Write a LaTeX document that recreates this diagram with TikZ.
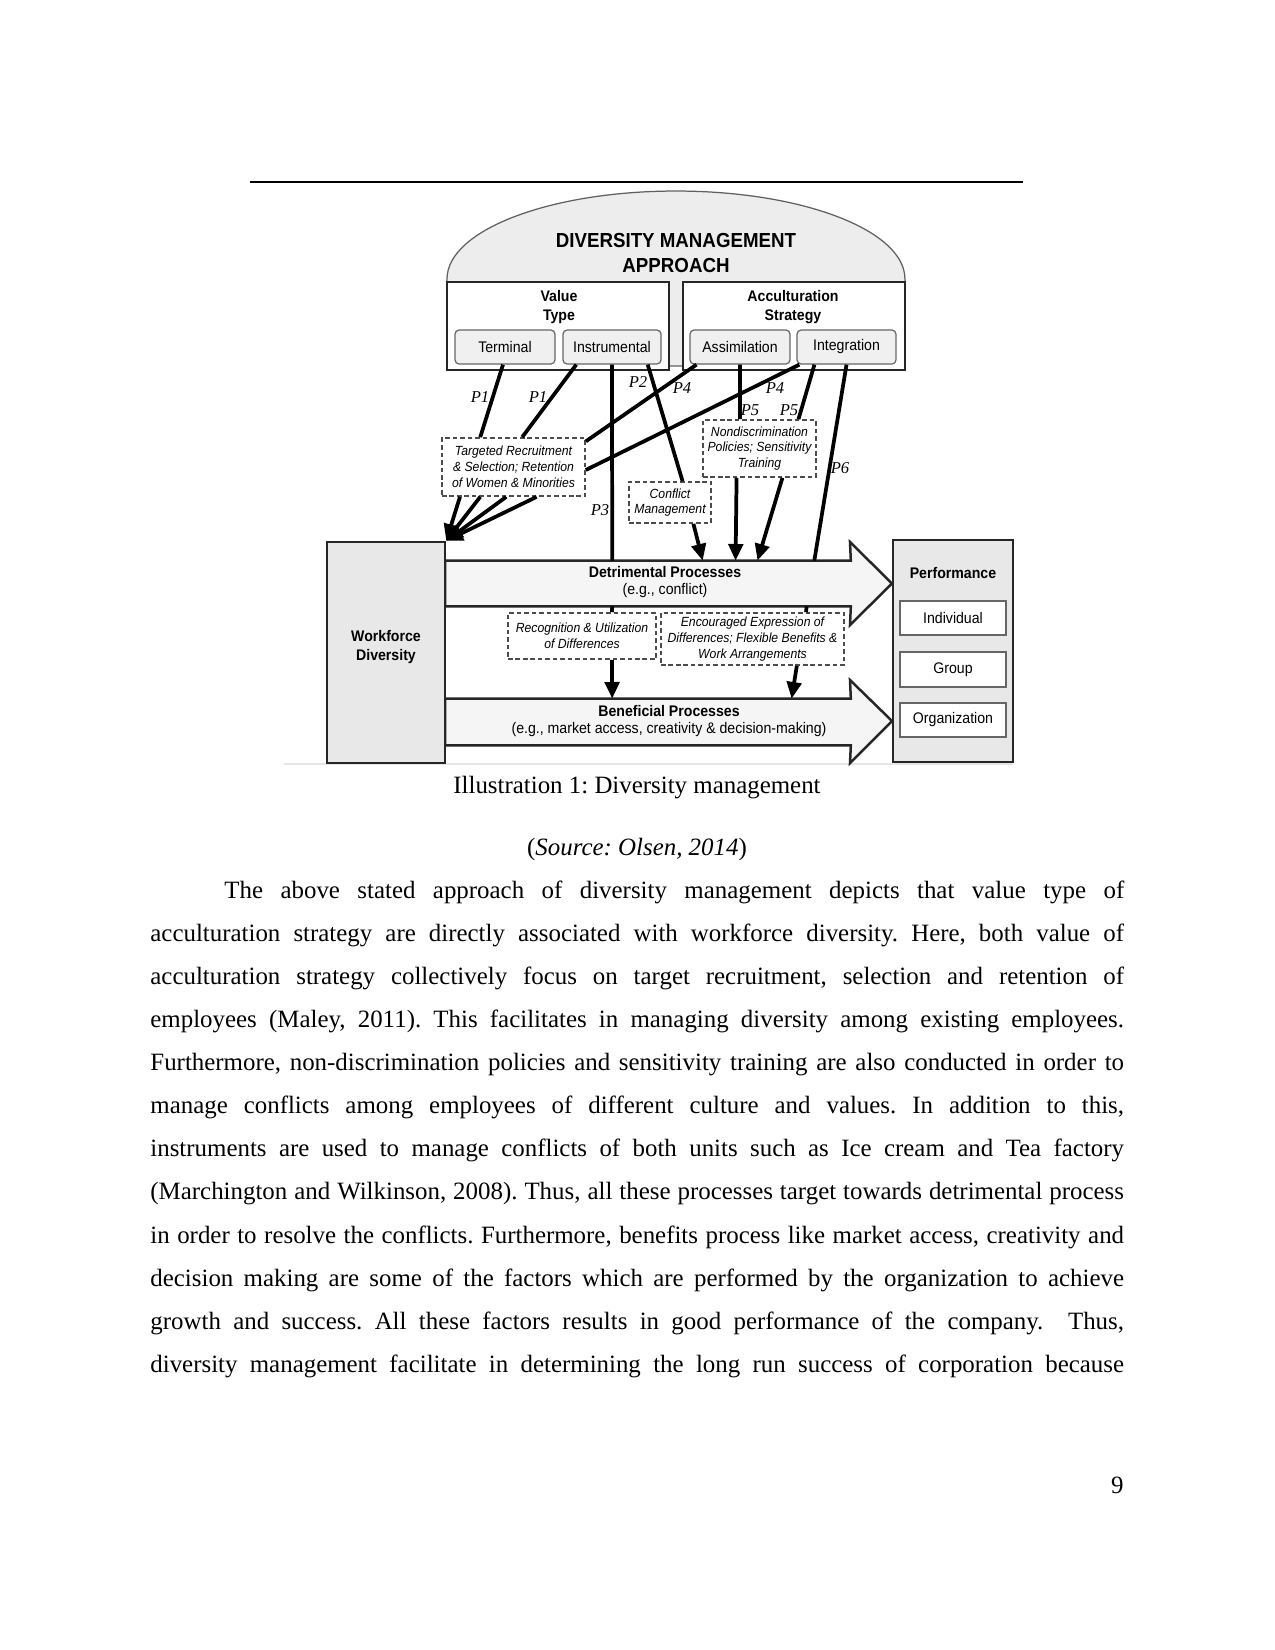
\documentclass[tikz,border=0pt]{standalone}
\usepackage{fontspec}
\setmainfont{Liberation Serif}
\newfontfamily\dgsans[FakeStretch=0.92]{Liberation Sans}
\usepackage{tikz}
\usetikzlibrary{arrows.meta, calc}
\frenchspacing

\begin{document}
\begin{tikzpicture}[
    x=0.016933cm, y=-0.016933cm,
    every node/.style={inner sep=0pt},
    sz/.style 2 args={minimum width=#1*0.016933cm, minimum height=#2*0.016933cm},
    dome/.style={draw=gray!75!black, fill=gray!14, line width=0.6pt},
    frame/.style={draw=black!85, fill=white, line width=1.2pt},
    opt/.style={draw=gray!80!black, fill=gray!12, rounded corners=2pt, line width=0.6pt, font=\dgsans\fontsize{7.4}{9}\selectfont},
    grp/.style={font=\dgsans\bfseries\fontsize{7.4}{8.8}\selectfont, align=center},
    mech/.style={draw=gray!60!black, fill=white, dashed, dash pattern=on 2.2pt off 1.4pt, line width=0.8pt, align=center, font=\dgsans\itshape\fontsize{6.4}{7.6}\selectfont},
    side/.style={draw=black!85, fill=gray!18, line width=1.2pt, align=center, font=\dgsans\bfseries\fontsize{7.4}{9.1}\selectfont},
    lvl/.style={draw=gray!80!black, fill=white, line width=0.8pt, font=\dgsans\fontsize{7.4}{9}\selectfont},
    proc/.style={draw=black!85, fill=gray!8, line width=1.2pt, line join=miter},
    proctxt/.style={font=\dgsans\fontsize{7.4}{8.6}\selectfont, align=center},
    plab/.style={font=\itshape\fontsize{8}{9}\selectfont},
    link/.style={line width=1.8pt},
    arr/.style={link, -{Triangle[length=8pt, width=7pt]}},
    body/.style={font=\fontsize{12}{14}\selectfont},
]
\fill[white] (0,0) rectangle (1275,1650);
\useasboundingbox (0,0) rectangle (1275,1650);

% top rule
\draw[line width=1pt] (250,182) -- (1023,182);
\draw[gray!20, line width=1pt] (284,764) -- (1013,764);

% === APPROACH ===
\draw[dome] (447,366) -- (447,279) arc[start angle=180, end angle=0, x radius=3.878cm, y radius=1.49cm] -- (905,366) -- cycle;
\node[font=\dgsans\bfseries\fontsize{9.8}{11.6}\selectfont, align=center] (dmtitle) at (676,253) {DIVERSITY MANAGEMENT\\APPROACH};

\node[frame, sz={222}{88}] (vt) at (558,326) {};
\node[grp] (vtttl) at (559,307) {Value\\Type};
\node[frame, sz={222}{88}] (acc) at (794,326) {};
\node[grp] (accttl) at (793,307) {Acculturation\\Strategy};

\node[opt, sz={100}{34}] (term) at (505,347) {Terminal};
\node[opt, sz={98}{34}] (instr) at (612,347) {Instrumental};
\node[opt, sz={100}{34}] (assim) at (740,347) {Assimilation};
\node[opt, sz={99}{34}] (integ) at (846.5,347) {Integration};

% === PRACTICES ===
\node[mech, sz={143}{58}] (tgt) at (513.5,467) {Targeted Recruitment\\\& Selection; Retention\\of Women \& Minorities};
\node[mech, sz={82}{41}] (confl) at (670,502.5) {Conflict\\Management};
\node[mech, sz={113}{57}] (nondisc) at (759.5,448.5) {Nondiscrimination\\Policies; Sensitivity\\Training};

% === PROCESS ARROWS ===
\node[sz={405}{45}, anchor=west] (det) at (445,583.5) {};
\draw[proc] (det.north west) -- (det.north east) -- (850,542) -- (892,583.5) -- (850,625) -- (det.south east) -- (det.south west) -- cycle;
\node[proctxt] (dettxt) at (665,582) {\textbf{Detrimental Processes}\\(e.g., conflict)};

\node[sz={405}{46}, anchor=west] (ben) at (445,722) {};
\draw[proc] (ben.north west) -- (ben.north east) -- (850,680) -- (892,721) -- (850,763) -- (ben.south east) -- (ben.south west) -- cycle;
\node[proctxt] (bentxt) at (669,721) {\textbf{Beneficial Processes}\\(e.g., market access, creativity \& decision-making)};

\node[mech, sz={148}{46}] (recog) at (582,636) {Recognition \& Utilization\\of Differences};
\node[mech, sz={183}{52}] (encour) at (752.5,639) {Encouraged Expression of\\Differences; Flexible Benefits \&\\Work Arrangements};

\node[side, sz={118}{221}] (wfd) at (386,652.5) {};
\node[grp, font=\dgsans\bfseries\fontsize{7.4}{9.1}\selectfont] (wfdtxt) at (386,647) {Workforce\\Diversity};

\node[side, sz={120}{222}] (perf) at (953,651) {};
\node[grp] (perfttl) at (953,573) {Performance};
\node[lvl, sz={106}{34}] (indiv) at (953,618) {Individual};
\node[lvl, sz={106}{35}] (group) at (953,669.5) {Group};
\node[lvl, sz={106}{34}] (org) at (953,720) {Organization};

% === LINKS ===
\draw[link] ($(term.south west)!0.48!(term.south east)$) -- ($(tgt.north west)!0.27!(tgt.north east)$);
\draw[link] ($(instr.south west)!0.14!(instr.south east)$) -- ($(tgt.north west)!0.56!(tgt.north east)$);
\draw[link] (instr.south) -- ($(det.north west)!0.412!(det.north east)$);
\draw[link] ($(instr.south west)!0.86!(instr.south east)$) -- ($(confl.north west)!0.65!(confl.north east)$);
\draw[link] ($(assim.south west)!0.07!(assim.south east)$) -- ($(tgt.north east)!0.07!(tgt.south east)$);
\draw[link] ($(integ.south west)!0.03!(integ.south east)$) -- ($(tgt.north east)!0.55!(tgt.south east)$);
\draw[link] (assim.south) -- ($(nondisc.north west)!0.33!(nondisc.north east)$);
\draw[link] ($(integ.south west)!0.18!(integ.south east)$) -- ($(nondisc.north west)!0.84!(nondisc.north east)$);
\draw[link] (integ.south) -- ($(det.north west)!0.91!(det.north east)$);

\foreach \f in {0.13, 0.27, 0.45, 0.66}
    \draw[arr] ($(tgt.south west)!\f!(tgt.south east)$) -- (wfd.north east);

\draw[arr] ($(confl.south west)!0.78!(confl.south east)$) -- ($(det.north west)!0.635!(det.north east)$);
\draw[arr] ($(nondisc.south west)!0.30!(nondisc.south east)$) -- ($(det.north west)!0.716!(det.north east)$);
\draw[arr] ($(nondisc.south west)!0.70!(nondisc.south east)$) -- ($(det.north west)!0.77!(det.north east)$);

\draw[link] ($(det.south west)!0.412!(det.south east)$) -- ($(recog.north west)!0.70!(recog.north east)$);
\draw[arr] ($(recog.south west)!0.70!(recog.south east)$) -- ($(ben.north west)!0.412!(ben.north east)$);
\draw[link] ($(det.south west)!0.891!(det.south east)$) -- ($(encour.north west)!0.79!(encour.north east)$);
\draw[arr] ($(encour.south west)!0.74!(encour.south east)$) -- ($(ben.north west)!0.854!(ben.north east)$);

% proposition labels
\node[plab] (p1a) at (480,397) {P1};
\node[plab] (p1b) at (538,397) {P1};
\node[plab] (p2) at (638,382) {P2};
\node[plab] (p4a) at (682,388) {P4};
\node[plab] (p4b) at (775,388) {P4};
\node[plab] (p5a) at (750,410) {P5};
\node[plab] (p5b) at (789,410) {P5};
\node[plab] (p3) at (600,510) {P3};
\node[plab] (p6) at (840,468) {P6};

% === PAGE TEXT ===
\node[body, anchor=base] (capt) at (637,793) {Illustration 1: Diversity management};
\node[body, anchor=base] (src) at (637,855) {(\textit{Source: Olsen, 2014})};

\node[body, anchor=base west] (par0) at (224,898) {\makebox[15.24cm][s]{The above stated approach of diversity management depicts that value type of}};
\foreach \ln [count=\i] in {
    {acculturation strategy are directly associated with workforce diversity. Here, both value of},
    {acculturation strategy collectively focus on target recruitment, selection and retention of},
    {employees (Maley, 2011). This facilitates in managing diversity among existing employees.},
    {Furthermore, non-discrimination policies and sensitivity training are also conducted in order to},
    {manage conflicts among employees of different culture and values. In addition to this,},
    {instruments are used to manage conflicts of both units such as Ice cream and Tea factory},
    {(Marchington and Wilkinson, 2008). Thus, all these processes target towards detrimental process},
    {in order to resolve the conflicts. Furthermore, benefits process like market access, creativity and},
    {decision making are some of the factors which are performed by the organization to achieve},
    {growth and success. All these factors results in good performance of the company.\ \ Thus,},
    {diversity management facilitate in determining the long run success of corporation because}}
    \node[body, anchor=base west] (par\i) at (150,{898+43.14*\i}) {\makebox[16.49cm][s]{\ln}};

\node[body, anchor=base east] (pgnum) at (1124,1493) {9};

\end{tikzpicture}
\end{document}
